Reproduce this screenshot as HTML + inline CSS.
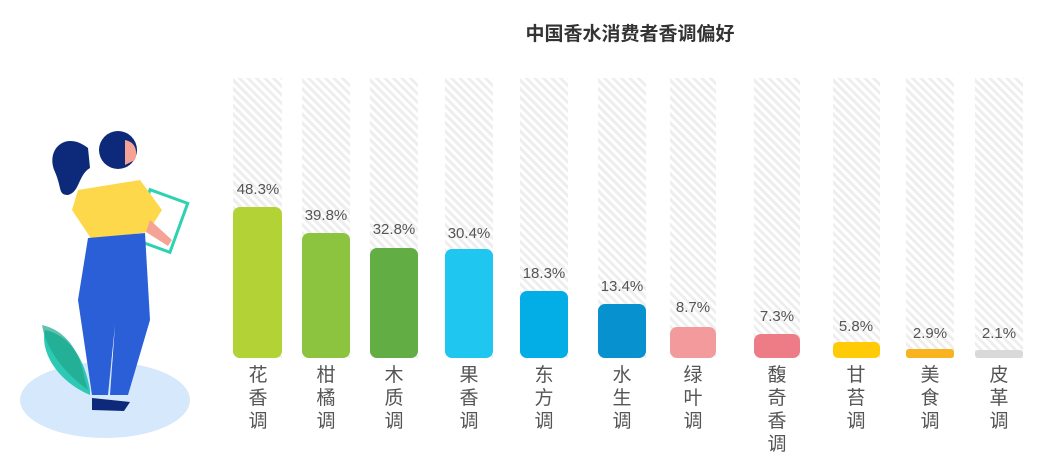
<!DOCTYPE html>
<html><head><meta charset="utf-8"><style>
body{margin:0;width:1051px;height:473px;background:#fff;overflow:hidden;font-family:"Liberation Sans","Noto Sans CJK SC",sans-serif;position:relative}
.t{position:absolute;left:430px;width:400px;top:19px;text-align:center;font-weight:bold;font-size:19px;color:#333}
.bg{position:absolute;top:78px;height:280px;background:repeating-linear-gradient(45deg,#fff 0 3px,#eeeeee 3px 6px)}
.b{position:absolute;border-radius:7px}
.v{position:absolute;width:80px;text-align:center;font-size:15px;color:#555}
.c{position:absolute;width:40px;text-align:center;font-size:19px;line-height:23px;color:#555;top:364px}
</style></head><body>
<div class="t">中国香水消费者香调偏好</div>
<svg style="position:absolute;left:0;top:0" width="230" height="473">
<ellipse cx="105" cy="400" rx="85" ry="38" fill="#d6e8fb"/>
<path d="M90 395 C55 380 40 350 45 330 C70 335 85 360 90 390Z" fill="#2dc9b5"/>
<path d="M88 390 C60 370 45 345 42 325 C65 330 80 350 85 380Z" fill="#1fa58a" opacity=".7"/>
<rect x="140" y="195" width="40" height="52" fill="none" stroke="#2dd2b0" stroke-width="3" transform="rotate(20 160 221)"/>
<path d="M88 148 C65 130 45 150 55 172 C62 188 58 195 68 195 C80 192 78 175 90 168Z" fill="#0d2a7a"/>
<circle cx="118" cy="150" r="19" fill="#0d2a7a"/>
<path d="M125 140 C135 142 138 150 135 160 L125 165Z" fill="#f4a394"/>
<path d="M78 190 L140 180 L162 210 L148 232 L92 240 L72 210Z" fill="#fdd84a"/>
<path d="M150 220 L172 240 L168 246 L146 232Z" fill="#f4a394"/>
<path d="M88 238 L145 233 L150 320 L128 395 L110 395 L115 325 L108 395 L92 395 L78 300Z" fill="#2a5fd8"/>
<path d="M92 398 L130 402 L124 411 L92 410Z" fill="#0d2a7a"/>
</svg>
<div class="bg" style="left:233px;width:49px"></div><div class="b" style="left:233px;width:49px;top:207px;height:151px;background:#b2d235"></div><div class="v" style="left:218px;top:181px">48.3%</div><div class="c" style="left:238px">花<br>香<br>调</div>
<div class="bg" style="left:302px;width:48px"></div><div class="b" style="left:302px;width:48px;top:233px;height:125px;background:#8cc43f"></div><div class="v" style="left:286px;top:207px">39.8%</div><div class="c" style="left:306px">柑<br>橘<br>调</div>
<div class="bg" style="left:370px;width:48px"></div><div class="b" style="left:370px;width:48px;top:248px;height:110px;background:#63ad45"></div><div class="v" style="left:354px;top:221px">32.8%</div><div class="c" style="left:374px">木<br>质<br>调</div>
<div class="bg" style="left:445px;width:48px"></div><div class="b" style="left:445px;width:48px;top:249px;height:109px;background:#1fc6f0"></div><div class="v" style="left:429px;top:225px">30.4%</div><div class="c" style="left:449px">果<br>香<br>调</div>
<div class="bg" style="left:520px;width:48px"></div><div class="b" style="left:520px;width:48px;top:291px;height:67px;background:#03ade6"></div><div class="v" style="left:504px;top:265px">18.3%</div><div class="c" style="left:524px">东<br>方<br>调</div>
<div class="bg" style="left:598px;width:48px"></div><div class="b" style="left:598px;width:48px;top:304px;height:54px;background:#0792cf"></div><div class="v" style="left:582px;top:278px">13.4%</div><div class="c" style="left:602px">水<br>生<br>调</div>
<div class="bg" style="left:670px;width:46px"></div><div class="b" style="left:670px;width:46px;top:327px;height:31px;background:#f39a9c"></div><div class="v" style="left:653px;top:299px">8.7%</div><div class="c" style="left:673px">绿<br>叶<br>调</div>
<div class="bg" style="left:754px;width:46px"></div><div class="b" style="left:754px;width:46px;top:334px;height:24px;background:#ee7c86"></div><div class="v" style="left:737px;top:308px">7.3%</div><div class="c" style="left:757px">馥<br>奇<br>香<br>调</div>
<div class="bg" style="left:833px;width:47px"></div><div class="b" style="left:833px;width:47px;top:342px;height:16px;background:#fecb06;border-radius:5px"></div><div class="v" style="left:816px;top:318px">5.8%</div><div class="c" style="left:836px">甘<br>苔<br>调</div>
<div class="bg" style="left:906px;width:48px"></div><div class="b" style="left:906px;width:48px;top:349px;height:9px;background:#f8b31e;border-radius:3px"></div><div class="v" style="left:890px;top:325px">2.9%</div><div class="c" style="left:910px">美<br>食<br>调</div>
<div class="bg" style="left:975px;width:48px"></div><div class="b" style="left:975px;width:48px;top:350px;height:8px;background:#d9d9d9;border-radius:3px"></div><div class="v" style="left:959px;top:325px">2.1%</div><div class="c" style="left:979px">皮<br>革<br>调</div>
</body></html>
